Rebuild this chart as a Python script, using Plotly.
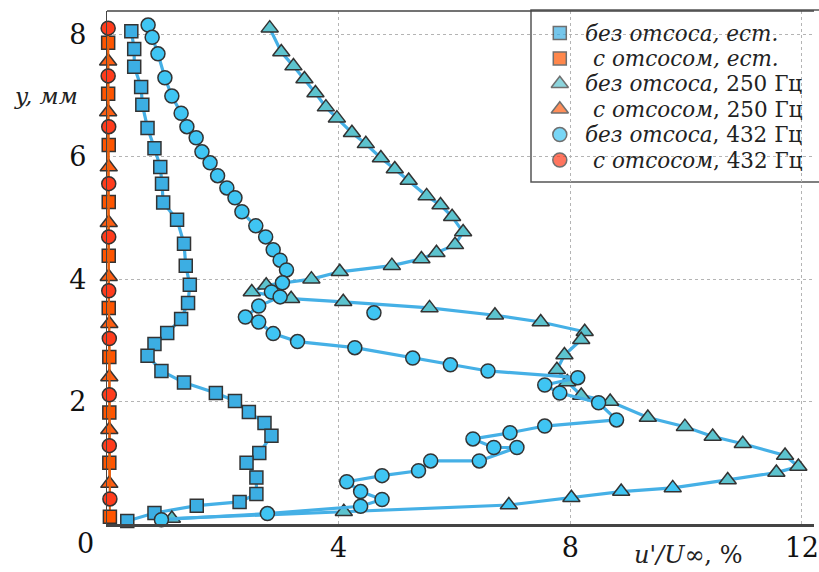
import plotly.graph_objects as go

# ---- data: y (mm) vs u'/U_inf (%) ----
# без отсоса, естественные возмущения
sq_blue_x = [0.42, 0.47, 0.47, 0.59, 0.61, 0.70, 0.82, 0.92, 0.95, 0.97, 1.21, 1.33, 1.36, 1.43,
             1.40, 1.28, 1.04, 0.82, 0.70, 0.94, 1.33, 1.88, 2.21, 2.45, 2.72, 2.84, 2.63, 2.41,
             2.58, 2.58, 2.29, 1.55, 0.82, 0.35]
sq_blue_y = [8.05, 7.76, 7.47, 7.14, 6.85, 6.47, 6.14, 5.83, 5.56, 5.25, 4.97, 4.58, 4.22, 3.91,
             3.61, 3.35, 3.12, 2.94, 2.75, 2.50, 2.31, 2.14, 2.01, 1.83, 1.65, 1.44, 1.16, 1.00,
             0.76, 0.49, 0.36, 0.30, 0.18, 0.05]

# с отсосом, естественные возмущения
sq_red_x = [0.02, 0.02, 0.03, 0.03, 0.03, 0.03, 0.04, 0.04, 0.04, 0.05]
sq_red_y = [7.86, 7.03, 6.19, 5.26, 4.38, 3.53, 2.73, 1.82, 1.00, 0.12]

# без отсоса, 250 Гц
tri_blue_x = [2.81, 3.01, 3.22, 3.41, 3.60, 3.78, 3.97, 4.23, 4.47, 4.73, 4.97, 5.21, 5.52, 5.76,
              5.96, 6.15, 6.01, 5.69, 5.43, 4.92, 4.02, 3.53, 2.75, 2.50, 3.18, 4.08, 5.57, 6.70,
              7.49, 8.25, 8.19, 7.90, 7.77, 7.95, 8.19, 8.69, 9.34, 9.98, 10.46, 10.98, 11.71,
              11.94, 11.56, 10.72, 9.77, 8.88, 8.02, 6.94, 4.09, 1.12]
tri_blue_y = [8.10, 7.71, 7.48, 7.27, 7.04, 6.81, 6.63, 6.39, 6.21, 5.98, 5.80, 5.61, 5.36, 5.21,
              5.02, 4.77, 4.56, 4.43, 4.33, 4.22, 4.12, 4.00, 3.90, 3.79, 3.68, 3.63, 3.53, 3.41,
              3.30, 3.14, 3.01, 2.76, 2.52, 2.32, 2.10, 2.00, 1.74, 1.59, 1.43, 1.31, 1.12,
              0.94, 0.84, 0.72, 0.59, 0.53, 0.43, 0.31, 0.20, 0.09]

# с отсосом, 250 Гц
tri_red_x = [0.02, 0.02, 0.03, 0.03, 0.03, 0.04, 0.04, 0.04, 0.04]
tri_red_y = [7.56, 6.73, 5.83, 4.92, 4.04, 3.27, 2.40, 1.54, 0.66]

# без отсоса, 432 Гц (last point is a separate measurement, not joined by the line)
circ_blue_x = [0.71, 0.78, 0.88, 1.00, 1.12, 1.28, 1.38, 1.54, 1.64, 1.78, 1.91, 2.07, 2.21, 2.33,
               2.57, 2.74, 2.87, 2.99, 3.10, 3.03, 2.84, 2.99, 2.62, 2.39, 2.62, 2.87, 3.29, 4.28,
               5.28, 5.93, 6.58, 8.13, 7.56, 7.82, 8.49, 8.80, 7.56, 6.96, 6.32, 6.68, 7.08, 6.43,
               5.59, 5.38, 4.75, 4.14, 4.38, 4.75, 4.38, 2.77, 0.94, None, 4.61]
circ_blue_y = [8.15, 7.95, 7.68, 7.29, 6.99, 6.71, 6.49, 6.31, 6.08, 5.90, 5.69, 5.49, 5.33, 5.10,
               4.87, 4.69, 4.48, 4.31, 4.15, 3.94, 3.79, 3.71, 3.56, 3.38, 3.30, 3.11, 2.98, 2.88,
               2.71, 2.60, 2.50, 2.39, 2.27, 2.14, 1.98, 1.70, 1.60, 1.49, 1.39, 1.25, 1.25, 1.03,
               1.03, 0.87, 0.79, 0.69, 0.53, 0.40, 0.29, 0.17, 0.07, None, 3.45]

# с отсосом, 432 Гц
circ_red_x = [0.02, 0.02, 0.03, 0.03, 0.03, 0.03, 0.04, 0.04, 0.04, 0.05]
circ_red_y = [8.10, 7.32, 6.49, 5.56, 4.69, 3.81, 3.03, 2.11, 1.28, 0.41]

x_ticks = [4, 8, 12]
y_ticks = [2, 4, 6, 8]

legend_labels = [
    "<i>без отсоса, ест.</i>",
    "<i>с отсосом, ест.</i>",
    "<i>без отсоса</i>, 250 Гц",
    "<i>с отсосом</i>, 250 Гц",
    "<i>без отсоса</i>, 432 Гц",
    "<i>с отсосом</i>, 432 Гц",
]

# ---- styling ----
SERIF = "DejaVu Serif, Liberation Serif, serif"
OUTLINE = dict(color="#333333", width=1.5)
BLUE_LINE = dict(color="#45b0e6", width=3.2)
RED_LINE = dict(color="#e8600f", width=2)

C_SQ = "#3caee3"
C_TRI = "#5cc3ce"
C_CIRC = "#3fc5f3"
C_SQ_R = "#ff5500"
C_TRI_R = "#ff5f14"
C_CIRC_R = "#ff3c1c"

SYMBOLS = ["square", "square", "triangle-up", "triangle-up", "circle", "circle"]
COLORS = [C_SQ, C_SQ_R, C_TRI, C_TRI_R, C_CIRC, C_CIRC_R]
SIZES = [13, 13, 15, 15, 14, 14]

# the low-lying 250 Гц points drawn in the brighter blue
tri_colors = [C_TRI] * len(tri_blue_x)
for i in (44, 45, 46, 47):
    tri_colors[i] = C_CIRC

fig = go.Figure()


def add(x, y, symbol, color, size, line):
    fig.add_trace(go.Scatter(
        x=x, y=y, mode="lines+markers", cliponaxis=False, showlegend=False,
        line=line, connectgaps=False, hoverinfo="x+y",
        marker=dict(symbol=symbol, color=color, size=size, line=OUTLINE),
    ))


add(sq_red_x, sq_red_y, "square", C_SQ_R, 13, RED_LINE)
add(tri_red_x, tri_red_y, "triangle-up", C_TRI_R, 15, RED_LINE)
add(circ_red_x, circ_red_y, "circle", C_CIRC_R, 14, RED_LINE)
add(sq_blue_x, sq_blue_y, "square", C_SQ, 13, BLUE_LINE)
add(tri_blue_x, tri_blue_y, "triangle-up", tri_colors, 15, BLUE_LINE)
add(circ_blue_x, circ_blue_y, "circle", C_CIRC, 14, BLUE_LINE)

# ---- legend box (drawn by hand so rows can sit tightly) ----
# plot area is 712 x 513 px; legend rows positioned in plot-fraction units
PW, PH = 712.0, 513.0
leg_left, leg_top, leg_bottom = 427 / PW, 514 / PH, 342 / PH
row_y = [(491 - 25.4 * k) / PH for k in range(6)]
sym_x = 456 / PW
txt_x = [479 / PW, 487 / PW] * 3

fig.add_trace(go.Scatter(
    x=[sym_x] * 6, y=row_y, xaxis="x2", yaxis="y2", mode="markers",
    showlegend=False, hoverinfo="skip", cliponaxis=False,
    marker=dict(symbol=SYMBOLS, color=COLORS, size=SIZES, line=OUTLINE),
))

annotations = []
for k, lab in enumerate(legend_labels):
    annotations.append(dict(
        text=lab, xref="paper", yref="paper", x=txt_x[k], y=row_y[k],
        xanchor="left", yanchor="middle", showarrow=False,
        font=dict(family=SERIF, size=21.5, color="#222222"),
    ))

annotations += [
    dict(text="0", xref="paper", yref="paper", x=0, y=0, xanchor="center", yanchor="middle",
         xshift=-22, yshift=-19, showarrow=False,
         font=dict(family=SERIF, size=27, color="#111111")),
    dict(text="<i>y, мм</i>", xref="paper", yref="paper", x=0, y=1, xanchor="center",
         yanchor="middle", xshift=-61, yshift=-85, showarrow=False,
         font=dict(family=SERIF, size=23, color="#222222")),
    dict(text="<i>u'/U</i>∞, %", xref="paper", yref="paper", x=0.8216, y=0,
         xanchor="center", yanchor="middle", yshift=-31, showarrow=False,
         font=dict(family=SERIF, size=24, color="#222222")),
]

grid = dict(showgrid=True, gridcolor="#b4b4b4", gridwidth=1, griddash="3px,3px", zeroline=False)

fig.update_layout(
    width=819, height=572,
    margin=dict(l=107, r=0, t=11, b=48),
    paper_bgcolor="white", plot_bgcolor="white",
    font=dict(family=SERIF, color="#111111"),
    showlegend=False,
    xaxis=dict(range=[0, 12.21], tickvals=x_ticks, ticks="", showline=True,
               linecolor="#444444", linewidth=2.5, mirror=False,
               tickfont=dict(family=SERIF, size=27, color="#111111"),
               ticklabeloverflow="allow", ticklabelstandoff=-2, **grid),
    yaxis=dict(range=[0, 8.38], tickvals=y_ticks, ticks="", showline=True,
               linecolor="#444444", linewidth=1.3, mirror=False,
               tickfont=dict(family=SERIF, size=27, color="#111111"),
               ticklabelstandoff=14, **grid),
    xaxis2=dict(overlaying="x", range=[0, 1], visible=False, fixedrange=True),
    yaxis2=dict(overlaying="y", range=[0, 1], visible=False, fixedrange=True),
    shapes=[
        dict(type="line", xref="paper", yref="paper", x0=0, x1=1, y0=1, y1=1,
             line=dict(color="#444444", width=1.3)),
        dict(type="rect", xref="paper", yref="paper", layer="between",
             x0=leg_left, x1=1.05, y0=leg_bottom, y1=leg_top,
             fillcolor="white", line=dict(color="#555555", width=1.5)),
    ],
    annotations=annotations,
)

fig.write_html("out.html")
